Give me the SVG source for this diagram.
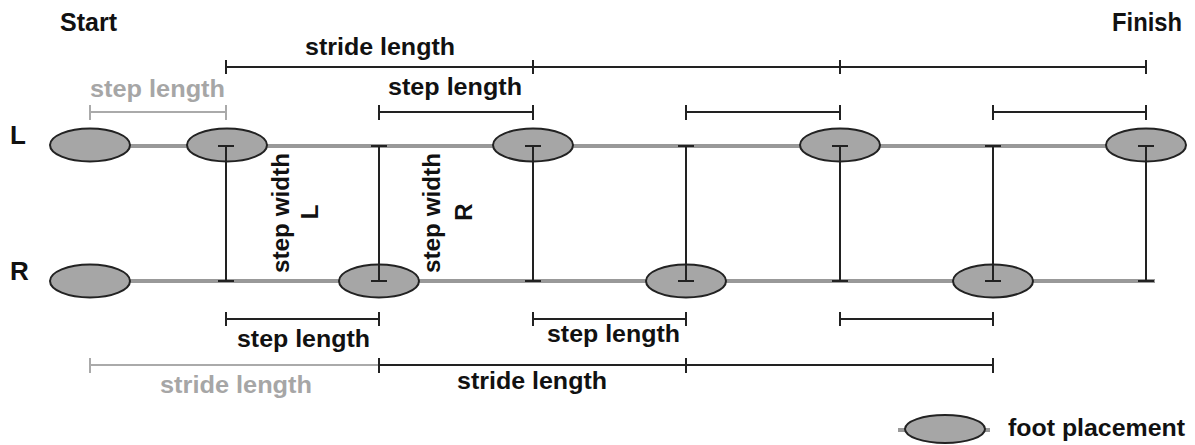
<svg xmlns="http://www.w3.org/2000/svg" width="1195" height="445" viewBox="0 0 1195 445">
<style>
text{font-family:"Liberation Sans",Arial,sans-serif;font-weight:bold;fill:#111}
.lbl{font-size:24px}
.grey{fill:#a6a6a6}
.track{stroke:#999;stroke-width:4;fill:none}
.br{stroke:#222;stroke-width:2;fill:none}
.brg{stroke:#aaa;stroke-width:2;fill:none}
.foot{fill:#a6a6a6;stroke:#222;stroke-width:2}
.vl{stroke:#222;stroke-width:2;fill:none}
</style>
<rect width="1195" height="445" fill="#fff"/>
<g id="tracks">
<line class="track" x1="90" y1="146" x2="1146" y2="146"/>
<line class="track" x1="90" y1="281" x2="1155" y2="281"/>
</g>
<g id="feet-L">
<ellipse class="foot" cx="90" cy="145" rx="40" ry="16.5"/>
<ellipse class="foot" cx="227" cy="145" rx="40" ry="16.5"/>
<ellipse class="foot" cx="533" cy="145" rx="40" ry="16.5"/>
<ellipse class="foot" cx="840" cy="145" rx="40" ry="16.5"/>
<ellipse class="foot" cx="1146" cy="145" rx="40" ry="16.5"/>
</g>
<g id="feet-R">
<ellipse class="foot" cx="90" cy="281" rx="40" ry="16.5"/>
<ellipse class="foot" cx="379" cy="281" rx="40" ry="16.5"/>
<ellipse class="foot" cx="686" cy="281" rx="40" ry="16.5"/>
<ellipse class="foot" cx="993" cy="281" rx="40" ry="16.5"/>
</g>
<g id="connectors">
<path class="vl" d="M226 146V281M218 146H234M218 281H234"/>
<path class="vl" d="M379 146V281M371 146H387M371 281H387"/>
<path class="vl" d="M533 146V281M525 146H541M525 281H541"/>
<path class="vl" d="M686 146V281M678 146H694M678 281H694"/>
<path class="vl" d="M840 146V281M832 146H848M832 281H848"/>
<path class="vl" d="M993 146V281M985 146H1001M985 281H1001"/>
<path class="vl" d="M1146 146V281M1138 146H1154M1138 281H1154"/>
<path class="br" d="M226 67H1146M226 60V74M533 60V74M840 60V74M1146 60V74"/>
<path class="brg" d="M90 112H226M90 105V120M226 105V120"/>
<path class="br" d="M379 112H533M379 105V120M533 105V120"/>
<path class="br" d="M686 112H840M686 105V120M840 105V120"/>
<path class="br" d="M993 112H1146M993 105V120M1146 105V120"/>
<path class="br" d="M226 319H379M226 312V326M379 312V326"/>
<path class="br" d="M533 319H686M533 312V326M686 312V326"/>
<path class="br" d="M840 319H993M840 312V326M993 312V326"/>
<path class="brg" d="M90 365H379M90 358V373"/>
<path class="br" d="M379 365H993M379 358V373M686 358V373M993 358V373"/>
</g>
<g id="labels">
<text x="60" y="31" font-size="25" textLength="57" lengthAdjust="spacingAndGlyphs">Start</text>
<text x="1112" y="31" font-size="25" textLength="70" lengthAdjust="spacingAndGlyphs">Finish</text>
<text x="10" y="144" font-size="26">L</text>
<text x="10" y="280" font-size="26">R</text>
<text class="lbl" x="305" y="55" textLength="150" lengthAdjust="spacingAndGlyphs">stride length</text>
<text class="lbl grey" x="90" y="97" textLength="135" lengthAdjust="spacingAndGlyphs">step length</text>
<text class="lbl" x="388" y="95" textLength="134" lengthAdjust="spacingAndGlyphs">step length</text>
<text class="lbl" x="237" y="347" textLength="133" lengthAdjust="spacingAndGlyphs">step length</text>
<text class="lbl" x="547" y="342" textLength="133" lengthAdjust="spacingAndGlyphs">step length</text>
<text class="lbl grey" x="160" y="393" textLength="152" lengthAdjust="spacingAndGlyphs">stride length</text>
<text class="lbl" x="457" y="389" textLength="150" lengthAdjust="spacingAndGlyphs">stride length</text>
<g transform="translate(289,213) rotate(-90)"><text class="lbl" x="-60" y="0" textLength="120" lengthAdjust="spacingAndGlyphs">step width</text></g>
<g transform="translate(318,212) rotate(-90)"><text class="lbl" x="0" y="0" text-anchor="middle">L</text></g>
<g transform="translate(440,213) rotate(-90)"><text class="lbl" x="-60" y="0" textLength="120" lengthAdjust="spacingAndGlyphs">step width</text></g>
<g transform="translate(472,212) rotate(-90)"><text class="lbl" x="0" y="0" text-anchor="middle">R</text></g>
</g>
<g id="legend">
<line class="track" x1="898" y1="430" x2="990" y2="430"/>
<ellipse class="foot" cx="945" cy="429" rx="40" ry="14"/>
<text class="lbl" x="1008" y="436" textLength="177" lengthAdjust="spacingAndGlyphs">foot placement</text>
</g>
</svg>
